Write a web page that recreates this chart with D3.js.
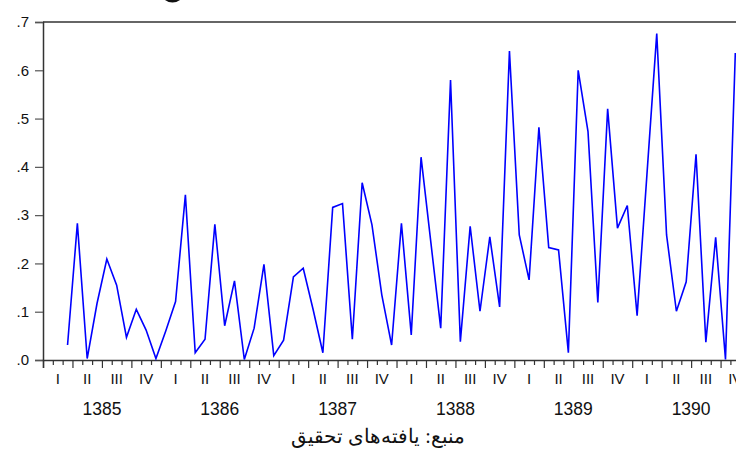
<!DOCTYPE html>
<html>
<head>
<meta charset="utf-8">
<script src="https://cdn.jsdelivr.net/npm/d3@7"></script>
<style>
  html, body { margin: 0; padding: 0; background: #fff; }
  svg { display: block; }
</style>
</head>
<body>
<svg id="chart" width="736" height="450"></svg>
<script>
// ---- data ----
const years = ["1385", "1386", "1387", "1388", "1389", "1390"];
const quarterLabels = ["I", "II", "III", "IV"];
const yTickValues = [0, 0.1, 0.2, 0.3, 0.4, 0.5, 0.6, 0.7];
const yTickLabels = [".0", ".1", ".2", ".3", ".4", ".5", ".6", ".7"];
// monthly series, first month index of the series within 1385
const startMonth = 2;
const values = [
  0.031, 0.283, 0.003, 0.117, 0.209, 0.155, 0.047, 0.105, 0.062, 0.003,
  0.060, 0.121, 0.342, 0.015, 0.043, 0.281, 0.071, 0.164, 0.001, 0.066,
  0.198, 0.009, 0.041, 0.172, 0.190, 0.105, 0.015, 0.316, 0.324, 0.043,
  0.367, 0.280, 0.135, 0.031, 0.283, 0.052, 0.420, 0.243, 0.066, 0.580,
  0.038, 0.277, 0.101, 0.255, 0.110, 0.640, 0.259, 0.166, 0.482, 0.233,
  0.228, 0.015, 0.600, 0.473, 0.119, 0.520, 0.273, 0.320, 0.092, 0.384,
  0.676, 0.259, 0.101, 0.162, 0.426, 0.037, 0.254, 0.001, 0.636
];
const caption = "منبع: یافته‌های تحقیق";

// ---- layout ----
const svg = d3.select("#chart");
const plotLeft = 43, plotTop = 22, plotBottom = 360;
const monthW = 9.82;
const nMonths = years.length * 12;

const x = d3.scaleLinear().domain([0, nMonths]).range([plotLeft, plotLeft + nMonths * monthW]);
const y = d3.scaleLinear().domain([0, 0.7]).range([plotBottom, plotTop]);

const font = "'Liberation Sans', Arial, sans-serif";

// cut-off element at the very top
svg.append("ellipse")
  .attr("cx", 172.5).attr("cy", -5).attr("rx", 10).attr("ry", 7.5)
  .attr("fill", "#111");

// top frame line
svg.append("line")
  .attr("x1", plotLeft).attr("x2", 736).attr("y1", plotTop).attr("y2", plotTop)
  .attr("stroke", "#333").attr("stroke-width", 1.5);

// y axis
const yAxis = d3.axisLeft(y)
  .tickValues(yTickValues)
  .tickFormat((d, i) => yTickLabels[i])
  .tickSize(8).tickPadding(6);
const gy = svg.append("g").attr("transform", `translate(${plotLeft},0)`).call(yAxis);
gy.select(".domain").attr("stroke", "#333").attr("stroke-width", 1.5);
gy.selectAll(".tick line").attr("stroke", "#555").attr("stroke-width", 1.2);
gy.selectAll("text").attr("font-family", font).attr("font-size", 15).attr("fill", "#111");

// x axis: monthly minor ticks
const monthTicks = d3.range(0, nMonths + 1).filter(m => m % 3 !== 0);
const quarterTicks = d3.range(0, nMonths + 1, 3);
const gxm = svg.append("g").attr("transform", `translate(0,${plotBottom})`)
  .call(d3.axisBottom(x).tickValues(monthTicks).tickSize(5).tickFormat(""));
gxm.select(".domain").remove();
gxm.selectAll(".tick line").attr("stroke", "#333").attr("stroke-width", 1.2);
const gxq = svg.append("g").attr("transform", `translate(0,${plotBottom})`)
  .call(d3.axisBottom(x).tickValues(quarterTicks).tickSize(8).tickFormat(""));
gxq.select(".domain").attr("stroke", "#333").attr("stroke-width", 1.5);
gxq.selectAll(".tick line").attr("stroke", "#333").attr("stroke-width", 1.2);

// quarter labels
const quarters = d3.range(years.length * 4);
svg.append("g").selectAll("text").data(quarters).join("text")
  .attr("x", q => x(q * 3 + 1.5))
  .attr("y", 384)
  .attr("text-anchor", "middle")
  .attr("font-family", font).attr("font-size", 15).attr("fill", "#111")
  .text(q => quarterLabels[q % 4]);

// year labels
svg.append("g").selectAll("text").data(years).join("text")
  .attr("x", (d, i) => x(i * 12 + 6))
  .attr("y", 414.5)
  .attr("text-anchor", "middle")
  .attr("font-family", font).attr("font-size", 17.5).attr("fill", "#111")
  .text(d => d);

// series line
const pts = values.map((v, i) => ({ m: startMonth + i, v }));
const line = d3.line().x(d => x(d.m + 0.5)).y(d => y(d.v));
svg.append("path")
  .datum(pts)
  .attr("d", line)
  .attr("fill", "none")
  .attr("stroke", "#0000ff")
  .attr("stroke-width", 1.6)
  .attr("stroke-linejoin", "miter");

// caption
svg.append("text")
  .attr("x", 378).attr("y", 443)
  .attr("text-anchor", "middle")
  .attr("direction", "rtl")
  .attr("font-family", "'Times New Roman', 'Liberation Serif', 'DejaVu Serif', serif")
  .attr("font-size", 20).attr("fill", "#111")
  .text(caption);
</script>
</body>
</html>
